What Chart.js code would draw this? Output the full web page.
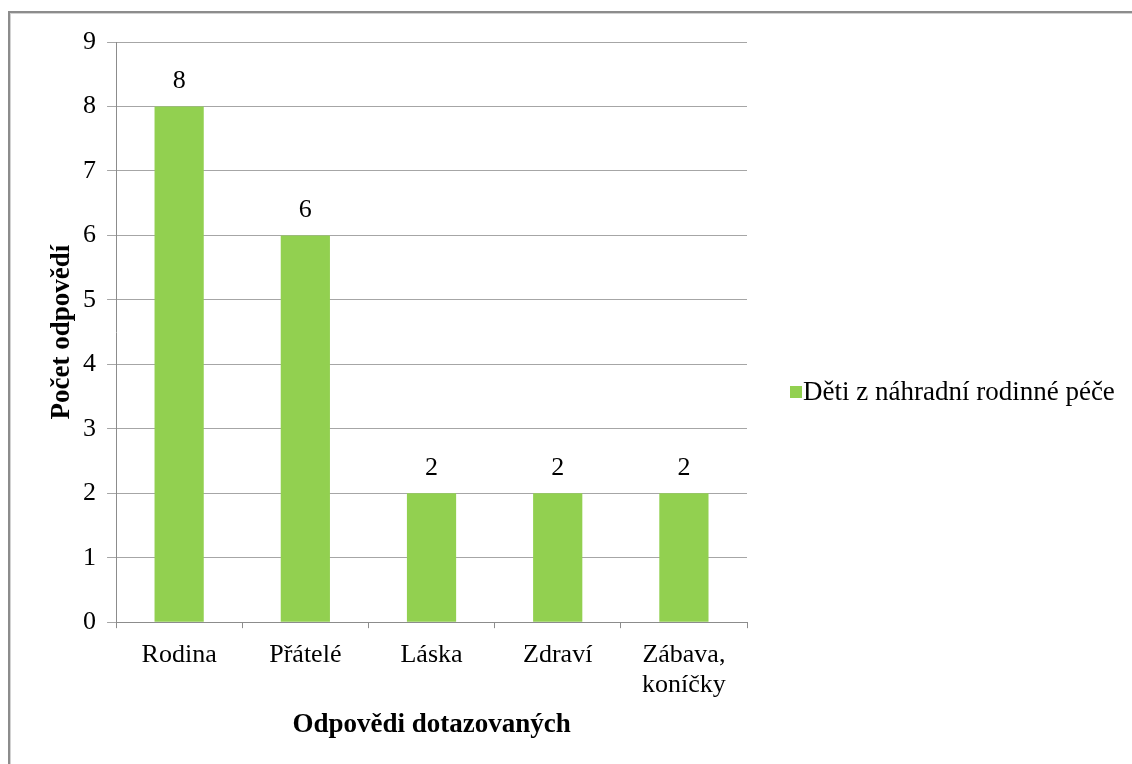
<!DOCTYPE html>
<html lang="cs">
<head>
<meta charset="utf-8">
<title>Počet odpovědí</title>
<script src="https://cdn.jsdelivr.net/npm/chart.js@4.4.1/dist/chart.umd.min.js"></script>
<style>
  html, body { margin: 0; padding: 0; background: #fff; }
  #wrap { position: relative; width: 1132px; height: 764px; overflow: hidden; }
  #frame {
    position: absolute; left: 8px; top: 11px; width: 1200px; height: 800px;
    border-top: 2px solid #8c8c8c; border-left: 2px solid #8c8c8c;
    box-shadow: inset 1px 1px 0 #d2d2d2;
  }
  canvas { position: absolute; left: 0; top: 0; }
</style>
</head>
<body>
<div id="wrap">
  <div id="frame"></div>
  <canvas id="chart" width="1132" height="764"></canvas>
</div>
<script>
// data
const categories = ['Rodina', 'Přátelé', 'Láska', 'Zdraví', ['Zábava,', 'koníčky']];
const seriesName = 'Děti z náhradní rodinné péče';
const answers = [8, 6, 2, 2, 2];
const yTicks = [0, 1, 2, 3, 4, 5, 6, 7, 8, 9];

const serif = '"Liberation Serif", "Times New Roman", serif';
const barColor = '#92d050';

// value labels above each bar
const valueLabels = {
  id: 'valueLabels',
  afterDatasetsDraw(chart) {
    const ctx = chart.ctx;
    const meta = chart.getDatasetMeta(0);
    ctx.save();
    ctx.font = '26px ' + serif;
    ctx.fillStyle = '#000';
    ctx.textAlign = 'center';
    ctx.textBaseline = 'alphabetic';
    meta.data.forEach((bar, i) => {
      ctx.fillText(String(answers[i]), bar.x, bar.y - 18);
    });
    ctx.restore();
  }
};

// the built-in legend is capped at a quarter of the width on the right,
// so the single entry is drawn from the legend items into the right padding
const sideLegend = {
  id: 'sideLegend',
  afterDraw(chart) {
    const ctx = chart.ctx;
    const area = chart.chartArea;
    const items = chart.options.plugins.legend.labels.generateLabels(chart);
    const boxX = area.right + 43;
    let y = (area.top + chart.height) / 2 - 10;
    ctx.save();
    ctx.font = '27px ' + serif;
    ctx.textBaseline = 'middle';
    ctx.textAlign = 'left';
    items.forEach(item => {
      ctx.fillStyle = item.fillStyle;
      ctx.fillRect(boxX, y - 7, 12, 12);
      ctx.fillStyle = '#000';
      ctx.fillText(item.text, boxX + 13, y);
      y += 32;
    });
    ctx.restore();
  }
};

const ctx = document.getElementById('chart').getContext('2d');
new Chart(ctx, {
  type: 'bar',
  data: {
    labels: categories,
    datasets: [{
      label: seriesName,
      data: answers,
      backgroundColor: barColor,
      borderWidth: 0,
      barPercentage: 0.39,
      categoryPercentage: 1,
    }],
  },
  options: {
    responsive: false,
    animation: false,
    layout: { padding: { top: 42, right: 385, bottom: 13, left: 9 } },
    plugins: {
      tooltip: { enabled: false },
      legend: { display: false },
    },
    scales: {
      x: {
        grid: { drawOnChartArea: false, drawTicks: true, tickLength: 6, color: '#8c8c8c' },
        border: { color: '#8c8c8c', width: 1 },
        ticks: {
          color: '#000',
          padding: 12,
          maxRotation: 0,
          font: { family: serif, size: 26, lineHeight: 1.15 },
        },
        title: {
          display: true,
          text: 'Odpovědi dotazovaných',
          color: '#000',
          font: { family: serif, size: 27, weight: 'bold', lineHeight: 1.15 },
          padding: { top: -2, bottom: 10 },
        },
      },
      y: {
        min: 0,
        max: 9,
        afterBuildTicks(scale) {
          scale.ticks = yTicks.map(v => ({ value: v }));
        },
        grid: { color: '#a6a6a6', tickLength: 9, drawTicks: true },
        border: { color: '#8c8c8c', width: 1 },
        ticks: {
          color: '#000',
          padding: 11,
          font: { family: serif, size: 26 },
        },
        title: {
          display: true,
          text: 'Počet odpovědí',
          color: '#000',
          font: { family: serif, size: 27, weight: 'bold', lineHeight: 1.15 },
          padding: { top: 38, bottom: -6 },
        },
      },
    },
  },
  plugins: [valueLabels, sideLegend],
});
</script>
</body>
</html>
